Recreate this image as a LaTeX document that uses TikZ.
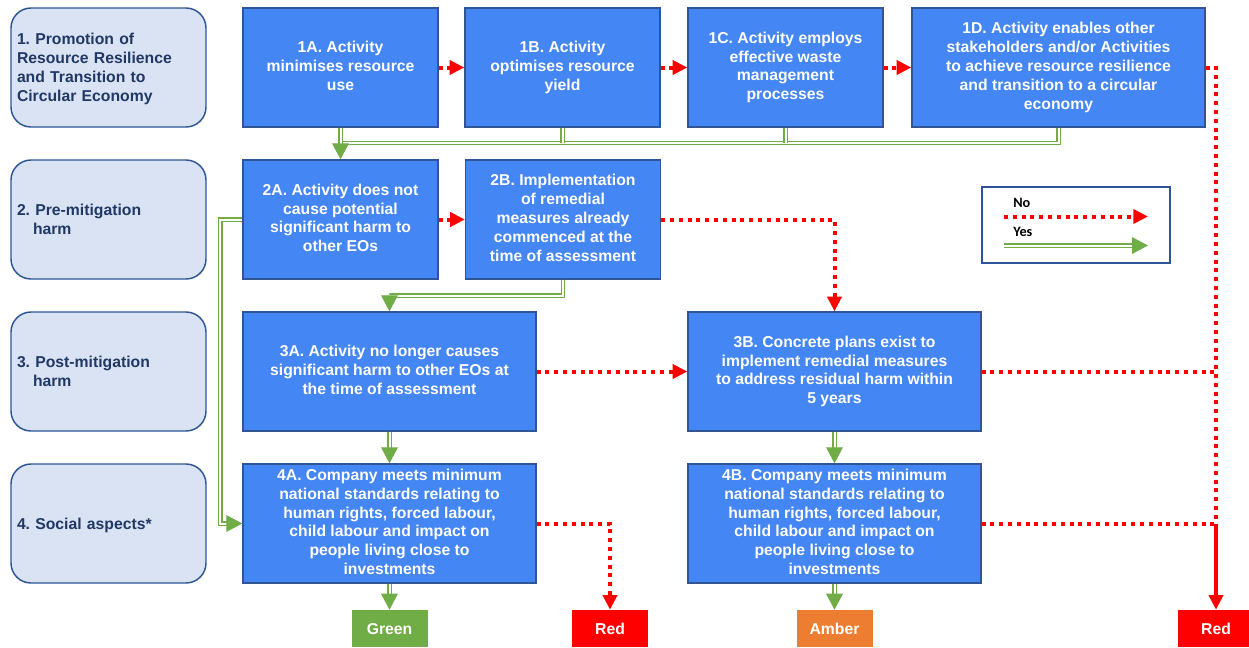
\documentclass[tikz,border=0pt]{standalone}
\usepackage{fontspec}
\setmainfont{Liberation Sans}
\newfontfamily\legfont{Carlito}
\usetikzlibrary{arrows.meta,calc}
\definecolor{bfill}{RGB}{68,134,244}
\definecolor{bline}{RGB}{47,85,151}
\definecolor{cfill}{RGB}{218,227,243}
\definecolor{ctext}{RGB}{31,56,100}
\definecolor{ygreen}{RGB}{112,173,71}
\definecolor{namber}{RGB}{237,125,49}
\definecolor{nred}{RGB}{255,0,0}
\frenchspacing
\newcommand\myvstrut{\rule[-0.22em]{0pt}{1.16em}}
\begin{document}
\begin{tikzpicture}[x=0.75pt,y=-0.75pt,
  every node/.style={font=\fontsize{11.8}{14.1}\selectfont\bfseries},
  txt/.style={execute at begin node=\myvstrut, execute at end node=\myvstrut},
  catbox/.style={txt, draw=bline, line width=1.1pt, fill=cfill, rounded corners=15pt, minimum width=146.25pt, minimum height=89.25pt, text width=137.25pt, inner xsep=4.5pt, align=left, text=ctext},
  actbox/.style={txt, draw=bline, line width=1pt, fill=bfill, text=white, align=center, minimum height=89.25pt, inner sep=2pt},
  narrow/.style={actbox, minimum width=146.25pt},
  wide/.style={actbox, minimum width=219.75pt},
  outbox/.style={txt, fill=#1, text=white, minimum width=57pt, minimum height=27.75pt, inner sep=0pt},
  no/.style={draw=nred, line width=3pt, dash pattern=on 3pt off 3.6pt},
  noarrow/.style={no, -{Triangle[length=11pt,width=10.5pt]}},
  yes/.style={draw=ygreen, line width=0.9pt, double=white, double distance=1.5pt},
  yesarrow/.style={yes, -{Triangle[length=12pt,width=12.5pt]}},
  legtext/.style={font=\legfont\fontsize{10.7}{12}\selectfont\bfseries, inner sep=0pt, anchor=west},
]
\useasboundingbox (0,0) rectangle (1249,647);
\clip (0,0) rectangle (1249,647);

\node[catbox] (c1) at (108.5,67.5) {1. Promotion of\\Resource Resilience\\and Transition to\\Circular Economy};
\node[catbox] (c2) at (108.5,219.5) {2. Pre-mitigation\\\hspace*{12pt}harm};
\node[catbox] (c3) at (108.5,371.5) {3. Post-mitigation\\\hspace*{12pt}harm};
\node[catbox] (c4) at (108.5,523.5) {4. Social aspects*};

\node[narrow] (a1) at (340.5,67.5) {1A. Activity\\minimises resource\\use};
\node[narrow] (b1) at (562.5,67.5) {1B. Activity\\optimises resource\\yield};
\node[narrow] (cc1) at (785.5,67.5) {1C. Activity employs\\effective waste\\management\\processes};
\node[wide] (d1) at (1058.5,67.5) {1D. Activity enables other\\stakeholders and/or Activities\\to achieve resource resilience\\and transition to a circular\\economy};
\node[narrow] (a2) at (340.5,219.5) {2A. Activity does not\\cause potential\\significant harm to\\other EOs};
\node[narrow] (b2) at (563,219.5) {2B. Implementation\\of remedial\\measures already\\commenced at the\\time of assessment};
\node[wide] (a3) at (389.5,371.5) {3A. Activity no longer causes\\significant harm to other EOs at\\the time of assessment};
\node[wide] (b3) at (834.5,371.5) {3B. Concrete plans exist to\\implement remedial measures\\to address residual harm within\\5 years};
\node[wide] (a4) at (389.5,523.5) {4A. Company meets minimum\\national standards relating to\\human rights, forced labour,\\child labour and impact on\\people living close to\\investments};
\node[wide] (b4) at (834.5,523.5) {4B. Company meets minimum\\national standards relating to\\human rights, forced labour,\\child labour and impact on\\people living close to\\investments};

\node[outbox=ygreen] (og) at (389.5,628.5) {Green};
\node[outbox=nred] (or1) at (610,628.5) {Red};
\node[outbox=namber] (oa) at (834.5,628.5) {Amber};
\node[outbox=nred] (or2) at (1216,628.5) {Red};

\node[draw=bline, line width=0.9pt, minimum width=141pt, minimum height=57pt] (leg) at (1076,225) {};
\node[legtext] (lno) at (1013,203) {No};
\node[legtext] (lyes) at (1013,232) {Yes};
\coordinate (ln1) at (1004,216.5); \coordinate (ln2) at (1148,216.5);
\coordinate (ly1) at (1004,245.5); \coordinate (ly2) at (1148,245.5);
\draw[noarrow] (ln1) -- (ln2);
\draw[yesarrow] (ly1) -- (ly2);

% No connectors
\draw[noarrow] (a1) -- (b1);
\draw[noarrow] (b1) -- (cc1);
\draw[noarrow] (cc1) -- (d1);
\coordinate (jr) at (or2.north |- b4.east);
\draw[no] (d1.east) -| (jr);
\draw[no] (b3.east) -- (b3.east -| jr);
\draw[no] (b4.east) -- (jr);
\draw[draw=nred, line width=3pt, -{Triangle[length=11pt,width=10.5pt]}] (jr) -- (or2.north);
\draw[noarrow] (a2) -- (b2);
\draw[noarrow] (b2.east) -| (b3.north);
\draw[noarrow] (a3) -- (b3);
\draw[noarrow] (a4.east) -| (or1.north);

% Yes connectors
\coordinate (gm) at (a1.south |- 0,143);
\draw[yes] (d1.south) |- (gm);
\draw[yes] (cc1.south) -- (cc1.south |- gm);
\draw[yes] (b1.south) -- (b1.south |- gm);
\draw[yesarrow] (a1.south) -- (a2.north);
\draw[yesarrow] (a2.west) -- ++(-22,0) |- (a4.west);
\draw[yesarrow] (b2.south) -- ++(0,16) -| (a3.north);
\draw[yesarrow] (a3.south) -- (a4.north);
\draw[yesarrow] (b3.south) -- (b4.north);
\draw[yesarrow] (a4.south) -- (og.north);
\draw[yesarrow] (b4.south) -- (oa.north);
\end{tikzpicture}
\end{document}
